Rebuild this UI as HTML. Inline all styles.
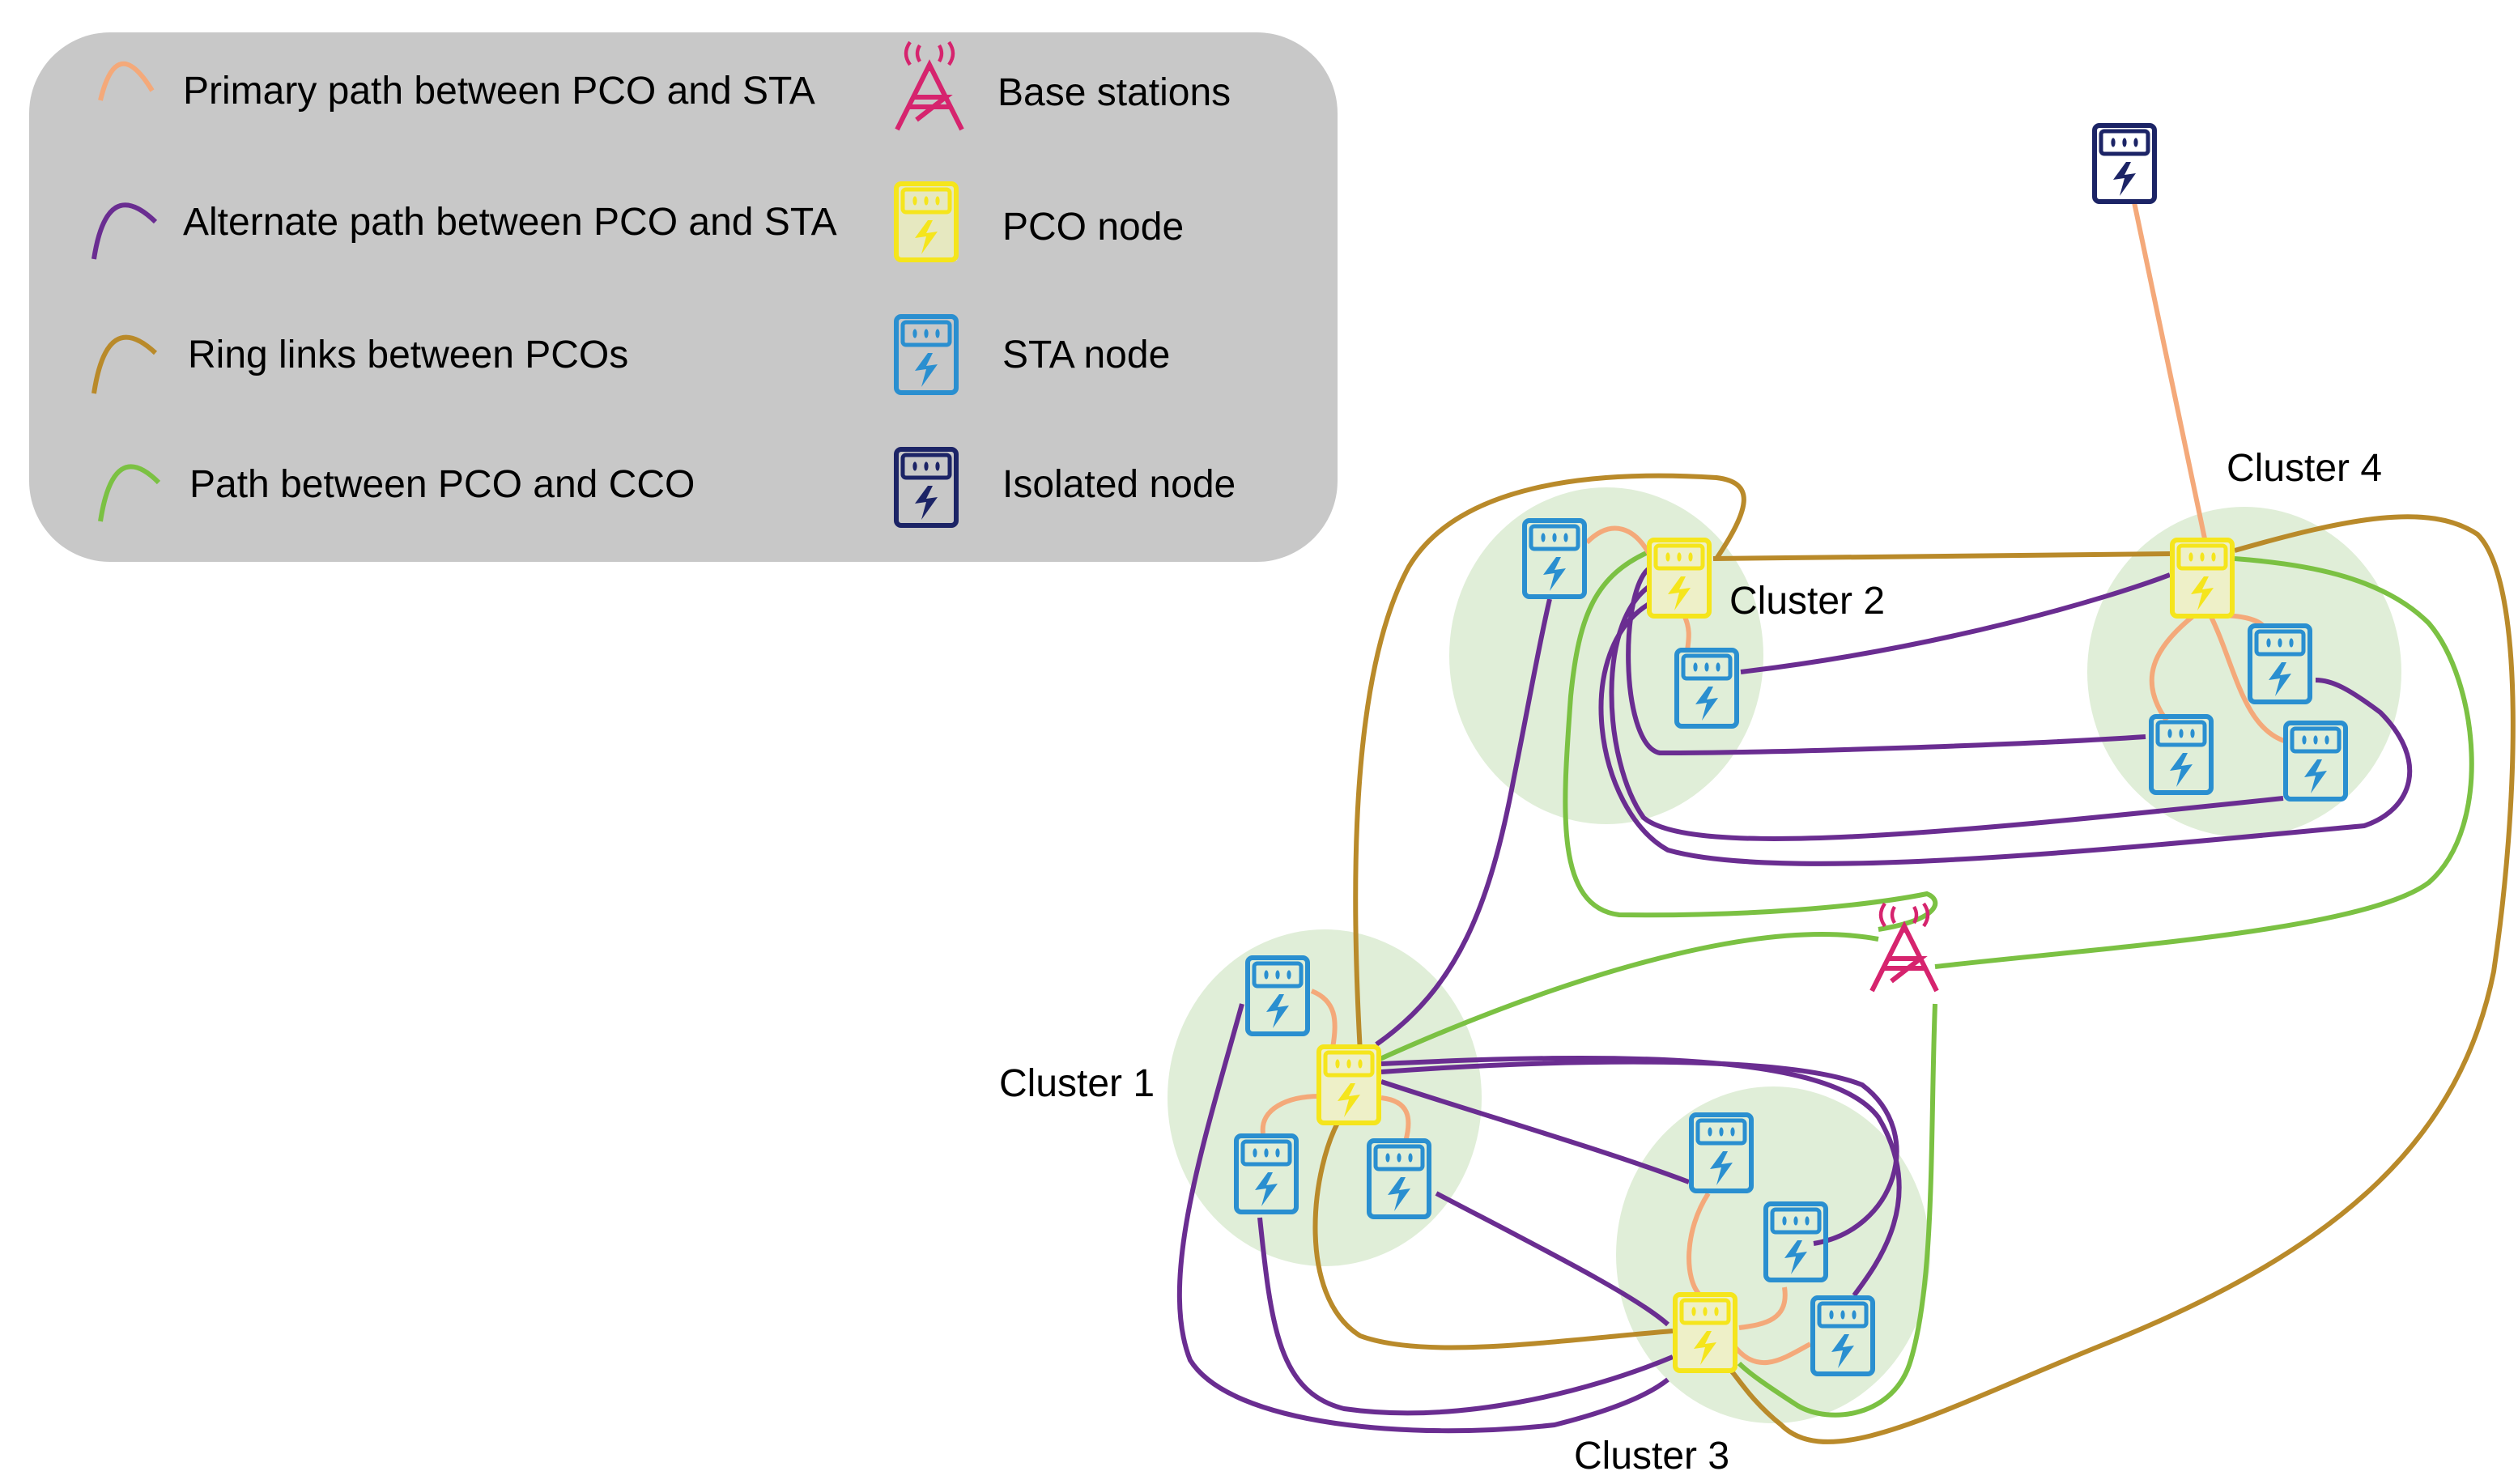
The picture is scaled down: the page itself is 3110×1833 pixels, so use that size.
<!DOCTYPE html>
<html><head><meta charset="utf-8"><style>
html,body{margin:0;padding:0;background:#fff}
svg{display:block}
text{font-family:"Liberation Sans",sans-serif;fill:#000}
</style></head><body>
<svg width="3110" height="1833" viewBox="0 0 1555 916.5" xmlns="http://www.w3.org/2000/svg">
<defs>
<g id="nd">
<rect x="1.5" y="1.5" width="37" height="47" rx="3" fill="none" stroke="currentColor" stroke-width="3"/>
<rect x="5.5" y="5" width="29" height="14" rx="2" fill="none" stroke="currentColor" stroke-width="2.5"/>
<ellipse cx="13" cy="12" rx="1.3" ry="2.8" fill="currentColor"/>
<ellipse cx="20" cy="12" rx="1.3" ry="2.8" fill="currentColor"/>
<ellipse cx="27" cy="12" rx="1.3" ry="2.8" fill="currentColor"/>
<path d="M21 24 L13 35 L20 34 L17 45 L27 31 L20 32 L24 24 Z" fill="currentColor"/>
</g>
<g id="bs" fill="none" stroke="#d6246e" stroke-width="3">
<path d="M0 50 L20 10 L40 50 M7 36 L33 36 M10 30 L30 30 L12 44 M20 10 L20 14"/>
<path d="M14 8 Q11 3 14 -2 M26 8 Q29 3 26 -2 M8 10 Q3 3 8 -4 M32 10 Q37 3 32 -4" stroke-width="2.2"/>
</g>
</defs>

<!-- legend -->
<rect x="18" y="20" width="808" height="327" rx="50" fill="#c8c8c8"/>
<g fill="none" stroke-width="3">
<path d="M62 62 Q72 20 94 56" stroke="#f4a97a"/>
<path d="M58 160 Q66 108 96 137" stroke="#6a2d91"/>
<path d="M58 243 Q66 190 96 218" stroke="#b98a2a"/>
<path d="M62 322 Q70 270 98 298" stroke="#7bc143"/>
</g>
<g font-size="24">
<text x="113" y="64">Primary path between PCO and STA</text>
<text x="113" y="145">Alternate path between PCO and STA</text>
<text x="116" y="227">Ring links between PCOs</text>
<text x="117" y="307">Path between PCO and CCO</text>
<text x="616" y="65">Base stations</text>
<text x="619" y="148">PCO node</text>
<text x="619" y="227">STA node</text>
<text x="619" y="307">Isolated node</text>
</g>
<use href="#bs" x="554" y="30"/>
<g color="#f5e51c"><rect x="554" y="114" width="37" height="47" fill="#e6e8c0"/><use href="#nd" x="552" y="112"/></g>
<use href="#nd" x="552" y="194" color="#2a8fd0"/>
<use href="#nd" x="552" y="276" color="#1c2466"/>

<!-- cluster circles -->
<g fill="#e0eed8">
<ellipse cx="992" cy="405" rx="97" ry="104"/>
<ellipse cx="1386" cy="415" rx="97" ry="102"/>
<ellipse cx="818" cy="678" rx="97" ry="104"/>
<ellipse cx="1095" cy="775" rx="97" ry="104"/>
</g>

<g fill="none" stroke-width="3">
<g stroke="#b98a2a">
<path d="M840 650 C835 560 832 420 870 350 C900 300 980 290 1060 295 C1085 298 1080 315 1060 345"/>
<path d="M1058 345 L1340 342"/>
<path d="M1380 340 C1450 320 1500 310 1530 330 C1560 360 1555 500 1540 600 C1520 700 1450 770 1300 830 C1200 870 1130 910 1100 880 C1075 860 1068 840 1065 845"/>
<path d="M1033 822 C960 828 880 840 840 825 C800 800 810 720 828 690"/>
</g>
<g stroke="#7bc143">
<path d="M1020 340 C985 355 975 380 970 430 C965 500 960 560 1000 565 C1080 566 1150 560 1190 552 C1200 556 1198 568 1160 574"/>
<path d="M850 655 C950 610 1080 565 1160 580"/>
<path d="M1195 597 C1300 585 1460 575 1500 545 C1540 510 1530 420 1500 385 C1470 355 1420 348 1380 345"/>
<path d="M1195 620 C1192 700 1195 790 1180 840 C1170 875 1130 880 1110 868 C1090 855 1080 848 1074 842"/>
</g>
<g stroke="#f4a97a">
<path d="M1318 125 L1362 335"/>
<path d="M980 335 C995 320 1010 325 1020 345"/>
<path d="M1040 380 C1045 390 1042 398 1042 403"/>
<path d="M1355 380 C1330 400 1320 420 1338 445"/>
<path d="M1370 380 C1390 380 1398 385 1398 388"/>
<path d="M1365 380 C1380 410 1385 450 1412 458"/>
<path d="M810 612 C825 618 826 630 823 647"/>
<path d="M815 677 C795 677 778 685 780 700"/>
<path d="M853 678 C870 680 872 690 868 705"/>
<path d="M1055 737 C1040 760 1040 790 1050 800"/>
<path d="M1102 795 C1105 815 1090 818 1074 820"/>
<path d="M1070 830 C1085 850 1100 840 1118 830"/>
</g>
<g stroke="#6a2d91">
<path d="M850 645 C900 610 920 560 935 480 C945 430 950 400 957 370"/>
<path d="M1075 415 C1200 400 1300 370 1340 355"/>
<path d="M1020 350 C1000 360 1000 460 1025 465 C1100 465 1250 460 1325 455"/>
<path d="M1022 360 C985 380 990 470 1015 505 C1045 530 1200 515 1410 493"/>
<path d="M1020 372 C970 400 985 500 1030 525 C1100 545 1300 525 1460 510 C1490 500 1500 470 1470 440 C1450 425 1440 420 1430 420"/>
<path d="M853 662 C950 655 1100 650 1150 670 C1190 700 1170 760 1120 768"/>
<path d="M853 657 C1000 650 1130 650 1160 690 C1190 740 1160 780 1145 800"/>
<path d="M853 668 C920 690 990 710 1043 730"/>
<path d="M887 737 C950 770 1010 800 1030 818"/>
<path d="M767 620 C745 700 715 790 735 840 C760 880 870 890 960 880 C1000 870 1020 860 1030 852"/>
<path d="M778 752 C785 820 790 860 830 870 C900 880 980 860 1033 838"/>
</g>
</g>

<g color="#2a8fd0">
<use href="#nd" x="940" y="320"/>
<use href="#nd" x="1034" y="400"/>
<use href="#nd" x="1388" y="385"/>
<use href="#nd" x="1327" y="441"/>
<use href="#nd" x="1410" y="445"/>
<use href="#nd" x="769" y="590"/>
<use href="#nd" x="762" y="700"/>
<use href="#nd" x="844" y="703"/>
<use href="#nd" x="1043" y="687"/>
<use href="#nd" x="1089" y="742"/>
<use href="#nd" x="1118" y="800"/>
</g>
<g color="#f5e51c">
<rect x="1019" y="334" width="37" height="45" fill="#eef0c8"/><use href="#nd" x="1017" y="332"/>
<rect x="1342" y="334" width="37" height="45" fill="#eef0c8"/><use href="#nd" x="1340" y="332"/>
<rect x="815" y="647" width="37" height="45" fill="#eef0c8"/><use href="#nd" x="813" y="645"/>
<rect x="1035" y="800" width="37" height="45" fill="#eef0c8"/><use href="#nd" x="1033" y="798"/>
</g>
<use href="#nd" x="1292" y="76" color="#1c2466"/>
<use href="#bs" x="1156" y="562"/>

<g font-size="24">
<text x="1068" y="379">Cluster 2</text>
<text x="1375" y="297">Cluster 4</text>
<text x="617" y="677">Cluster 1</text>
<text x="972" y="907">Cluster 3</text>
</g>
</svg>
</body></html>
